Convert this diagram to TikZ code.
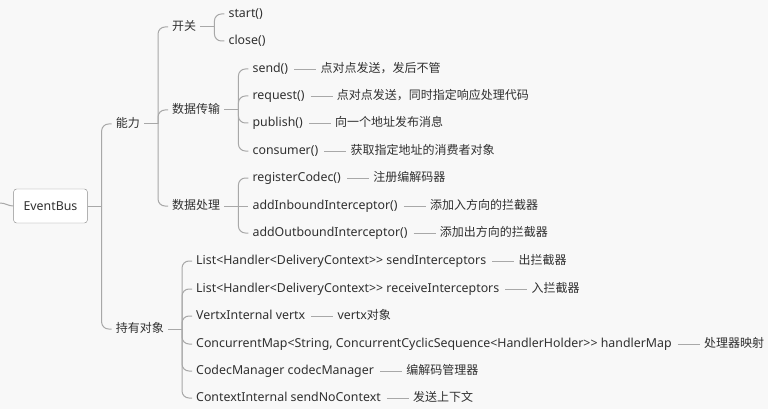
\documentclass[tikz,border=0pt]{standalone}
\usepackage{fontspec}
\setmainfont[Scale=1.03]{Noto Sans}
\newfontfamily\cjk{Noto Sans CJK SC}
\usetikzlibrary{positioning}
\definecolor{mapbg}{HTML}{F8F8F8}
\definecolor{mapline}{HTML}{A8A8A8}
\definecolor{maptext}{HTML}{303030}
\definecolor{mapbox}{HTML}{8C8C8C}
\tikzset{
    root box/.style = {
        draw = mapbox,
        fill = white,
        rounded corners = 3pt,
        inner xsep = 10pt,
        minimum height = 34pt,
        text = maptext,
        font = \fontsize{12}{14}\selectfont,
        },
    topic node/.style = {
        anchor = west,
        inner xsep = 4pt,
        inner ysep = 0pt,
        text height = 9.5pt,
        text depth = 2.5pt,
        text = maptext,
        font = \fontsize{12}{14}\selectfont\cjk,
        },
    leaf node/.style = {
        topic node,
        font = \fontsize{12}{14}\selectfont,
        },
    note node/.style = {
        topic node,
        },
    branch line/.style = {
        draw = mapline,
        line width = 1pt,
        rounded corners = 7pt,
        },
    note line/.style = {
        draw = mapline,
        line width = 0.9pt,
        shorten <= 2pt,
        },
}

\begin{document}
\begin{tikzpicture}[x=1pt, y=-1pt, node distance=24pt]
            \useasboundingbox (0,0) rectangle (768,409);
            \fill[mapbg] (0,0) rectangle (768,409);

            % root and first level
            \coordinate (in) at (0,203);
            \node[root box] (eb) at (50.5,206) {EventBus};
            \coordinate (t-eb) at ([xshift=14pt]eb.east);
            \node[topic node, xshift=10pt] (nengli) at (t-eb |- 0,124) {能力};
            \node[topic node, xshift=10pt] (chiyou) at (t-eb |- 0,329) {持有对象};
            \coordinate (t-nl) at ([xshift=14pt]nengli.east);
            \coordinate (t-cy) at ([xshift=14pt]chiyou.east);

            % second level
            \node[topic node, xshift=10pt] (kaiguan) at (t-nl |- 0,27) {开关};
            \node[topic node, xshift=10pt] (chuanshu) at (t-nl |- 0,110) {数据传输};
            \node[topic node, xshift=10pt] (chuli) at (t-nl |- 0,206) {数据处理};
            \coordinate (t-kg) at ([xshift=14pt]kaiguan.east);
            \coordinate (t-cs) at ([xshift=14pt]chuanshu.east);
            \coordinate (t-cl) at ([xshift=14pt]chuli.east);

            % leaves
            \node[leaf node, xshift=10pt] (start) at (t-kg |- 0,14) {start()};
            \node[leaf node, xshift=10pt] (close) at (t-kg |- 0,41) {close()};

            \node[leaf node, xshift=10pt] (send) at (t-cs |- 0,69) {send()};
            \node[leaf node, xshift=10pt] (request) at (t-cs |- 0,96) {request()};
            \node[leaf node, xshift=10pt] (publish) at (t-cs |- 0,123) {publish()};
            \node[leaf node, xshift=10pt] (consumer) at (t-cs |- 0,151) {consumer()};

            \node[leaf node, xshift=10pt] (regcodec) at (t-cl |- 0,178) {registerCodec()};
            \node[leaf node, xshift=10pt] (addin) at (t-cl |- 0,206) {addInboundInterceptor()};
            \node[leaf node, xshift=10pt] (addout) at (t-cl |- 0,233) {addOutboundInterceptor()};

            \node[leaf node, xshift=10pt] (sendint) at (t-cy |- 0,261) {List<Handler<DeliveryContext>{}> sendInterceptors};
            \node[leaf node, xshift=10pt] (recvint) at (t-cy |- 0,289) {List<Handler<DeliveryContext>{}> receiveInterceptors};
            \node[leaf node, xshift=10pt] (vertx) at (t-cy |- 0,316) {VertxInternal vertx};
            \node[leaf node, xshift=10pt] (handlermap) at (t-cy |- 0,344) {ConcurrentMap<String, ConcurrentCyclicSequence<HandlerHolder>{}> handlerMap};
            \node[leaf node, xshift=10pt] (codecmgr) at (t-cy |- 0,371) {CodecManager codecManager};
            \node[leaf node, xshift=10pt] (sendctx) at (t-cy |- 0,398) {ContextInternal sendNoContext};

            % notes
            \node[note node, right=of send] (send-d) {点对点发送，发后不管};
            \node[note node, right=of request] (request-d) {点对点发送，同时指定响应处理代码};
            \node[note node, right=of publish] (publish-d) {向一个地址发布消息};
            \node[note node, right=of consumer] (consumer-d) {获取指定地址的消费者对象};
            \node[note node, right=of regcodec] (regcodec-d) {注册编解码器};
            \node[note node, right=of addin] (addin-d) {添加入方向的拦截器};
            \node[note node, right=of addout] (addout-d) {添加出方向的拦截器};
            \node[note node, right=of sendint] (sendint-d) {出拦截器};
            \node[note node, right=of recvint] (recvint-d) {入拦截器};
            \node[note node, right=of vertx] (vertx-d) {{\normalfont vertx}对象};
            \node[note node, right=of handlermap] (handlermap-d) {处理器映射};
            \node[note node, right=of codecmgr] (codecmgr-d) {编解码管理器};
            \node[note node, right=of sendctx] (sendctx-d) {发送上下文};

            % branches
            \draw[branch line] (in) to[out=0, in=180] (eb.west);
            \draw[branch line] (eb.east) -- (t-eb);
            \draw[branch line] (t-eb) |- (nengli.west);
            \draw[branch line] (t-eb) |- (chiyou.west);

            \draw[branch line] (nengli.east) -- (t-nl);
            \draw[branch line] (t-nl) |- (kaiguan.west);
            \draw[branch line] (t-nl) |- (chuanshu.west);
            \draw[branch line] (t-nl) |- (chuli.west);

            \draw[branch line] (kaiguan.east) -- (t-kg);
            \draw[branch line] (t-kg) |- (start.west);
            \draw[branch line] (t-kg) |- (close.west);

            \draw[branch line] (chuanshu.east) -- (t-cs);
            \draw[branch line] (t-cs) |- (send.west);
            \draw[branch line] (t-cs) |- (request.west);
            \draw[branch line] (t-cs) |- (publish.west);
            \draw[branch line] (t-cs) |- (consumer.west);

            \draw[branch line] (chuli.east) -- (addin.west);
            \draw[branch line] (t-cl) |- (regcodec.west);
            \draw[branch line] (t-cl) |- (addout.west);

            \draw[branch line] (chiyou.east) -- (t-cy);
            \draw[branch line] (t-cy) |- (sendint.west);
            \draw[branch line] (t-cy) |- (recvint.west);
            \draw[branch line] (t-cy) |- (vertx.west);
            \draw[branch line] (t-cy) |- (handlermap.west);
            \draw[branch line] (t-cy) |- (codecmgr.west);
            \draw[branch line] (t-cy) |- (sendctx.west);

            % note dashes
            \draw[note line] (send) -- (send-d);
            \draw[note line] (request) -- (request-d);
            \draw[note line] (publish) -- (publish-d);
            \draw[note line] (consumer) -- (consumer-d);
            \draw[note line] (regcodec) -- (regcodec-d);
            \draw[note line] (addin) -- (addin-d);
            \draw[note line] (addout) -- (addout-d);
            \draw[note line] (sendint) -- (sendint-d);
            \draw[note line] (recvint) -- (recvint-d);
            \draw[note line] (vertx) -- (vertx-d);
            \draw[note line] (handlermap) -- (handlermap-d);
            \draw[note line] (codecmgr) -- (codecmgr-d);
            \draw[note line] (sendctx) -- (sendctx-d);
        \end{tikzpicture}
\end{document}
